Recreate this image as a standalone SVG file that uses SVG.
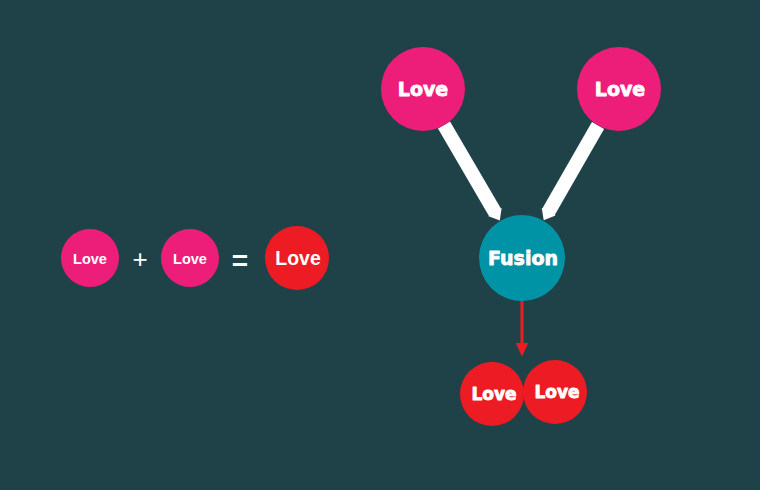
<svg xmlns="http://www.w3.org/2000/svg" width="760" height="490" viewBox="0 0 760 490">
<style>
.pink{fill:#ed1e79}
.red{fill:#ed1c24}
.teal{fill:#0092a5}
.t{fill:#ffffff;text-anchor:middle}
.heavy{font-family:"DejaVu Sans",sans-serif;font-weight:bold;stroke:#ffffff;stroke-width:0.8;stroke-linejoin:round}
.sans{font-family:"Liberation Sans",Arial,sans-serif;font-weight:bold}
.op{font-family:"Liberation Sans",Arial,sans-serif;fill:#ffffff;text-anchor:middle}
</style>
<defs>
<marker id="wh" markerUnits="userSpaceOnUse" markerWidth="10" markerHeight="16" viewBox="0 0 10 16" refX="0.5" refY="8" orient="auto">
<path d="M0,0 L10,8 L0,16 z" fill="#ffffff"/>
</marker>
<marker id="rh" markerUnits="userSpaceOnUse" markerWidth="14" markerHeight="13" viewBox="0 0 14 13" refX="0.5" refY="6.5" orient="auto">
<path d="M0,0 L14,6.5 L0,13 z" fill="#ed1c24"/>
</marker>
</defs>
<rect width="760" height="490" fill="#1f4249"/>
<g id="connectors">
<line x1="444" y1="125" x2="495" y2="212.4" stroke="#ffffff" stroke-width="14" marker-end="url(#wh)"/>
<line x1="598" y1="125.4" x2="548.4" y2="212" stroke="#ffffff" stroke-width="14" marker-end="url(#wh)"/>
<line x1="522" y1="301" x2="522" y2="343" stroke="#ed1c24" stroke-width="3" marker-end="url(#rh)"/>
</g>
<g id="eq-love1"><circle class="pink" cx="90" cy="258" r="29"/><text class="t sans" x="90" y="263.5" font-size="14.5">Love</text></g>
<g id="eq-plus"><text class="op" x="140" y="268" font-size="26">+</text></g>
<g id="eq-love2"><circle class="pink" cx="190" cy="258" r="29"/><text class="t sans" x="190" y="263.5" font-size="14.5">Love</text></g>
<g id="eq-equals"><text class="op" x="240" y="270" font-size="28" font-weight="bold">=</text></g>
<g id="eq-result"><circle class="red" cx="297" cy="258" r="32"/><text class="t sans" x="298" y="265" font-size="19.5">Love</text></g>
<g id="love-top-left"><circle class="pink" cx="423" cy="89" r="42"/><text class="t heavy" x="423" y="96" font-size="19">Love</text></g>
<g id="love-top-right"><circle class="pink" cx="619" cy="89" r="42"/><text class="t heavy" x="620" y="96" font-size="19">Love</text></g>
<g id="fusion"><circle class="teal" cx="522" cy="258" r="43"/><text class="t heavy" x="523" y="265" font-size="19">Fusion</text></g>
<g id="love-bottom-left"><circle class="red" cx="492" cy="394" r="32"/><text class="t heavy" x="494" y="400" font-size="17">Love</text></g>
<g id="love-bottom-right"><circle class="red" cx="555" cy="392" r="32"/><text class="t heavy" x="557" y="398" font-size="17">Love</text></g>
</svg>
